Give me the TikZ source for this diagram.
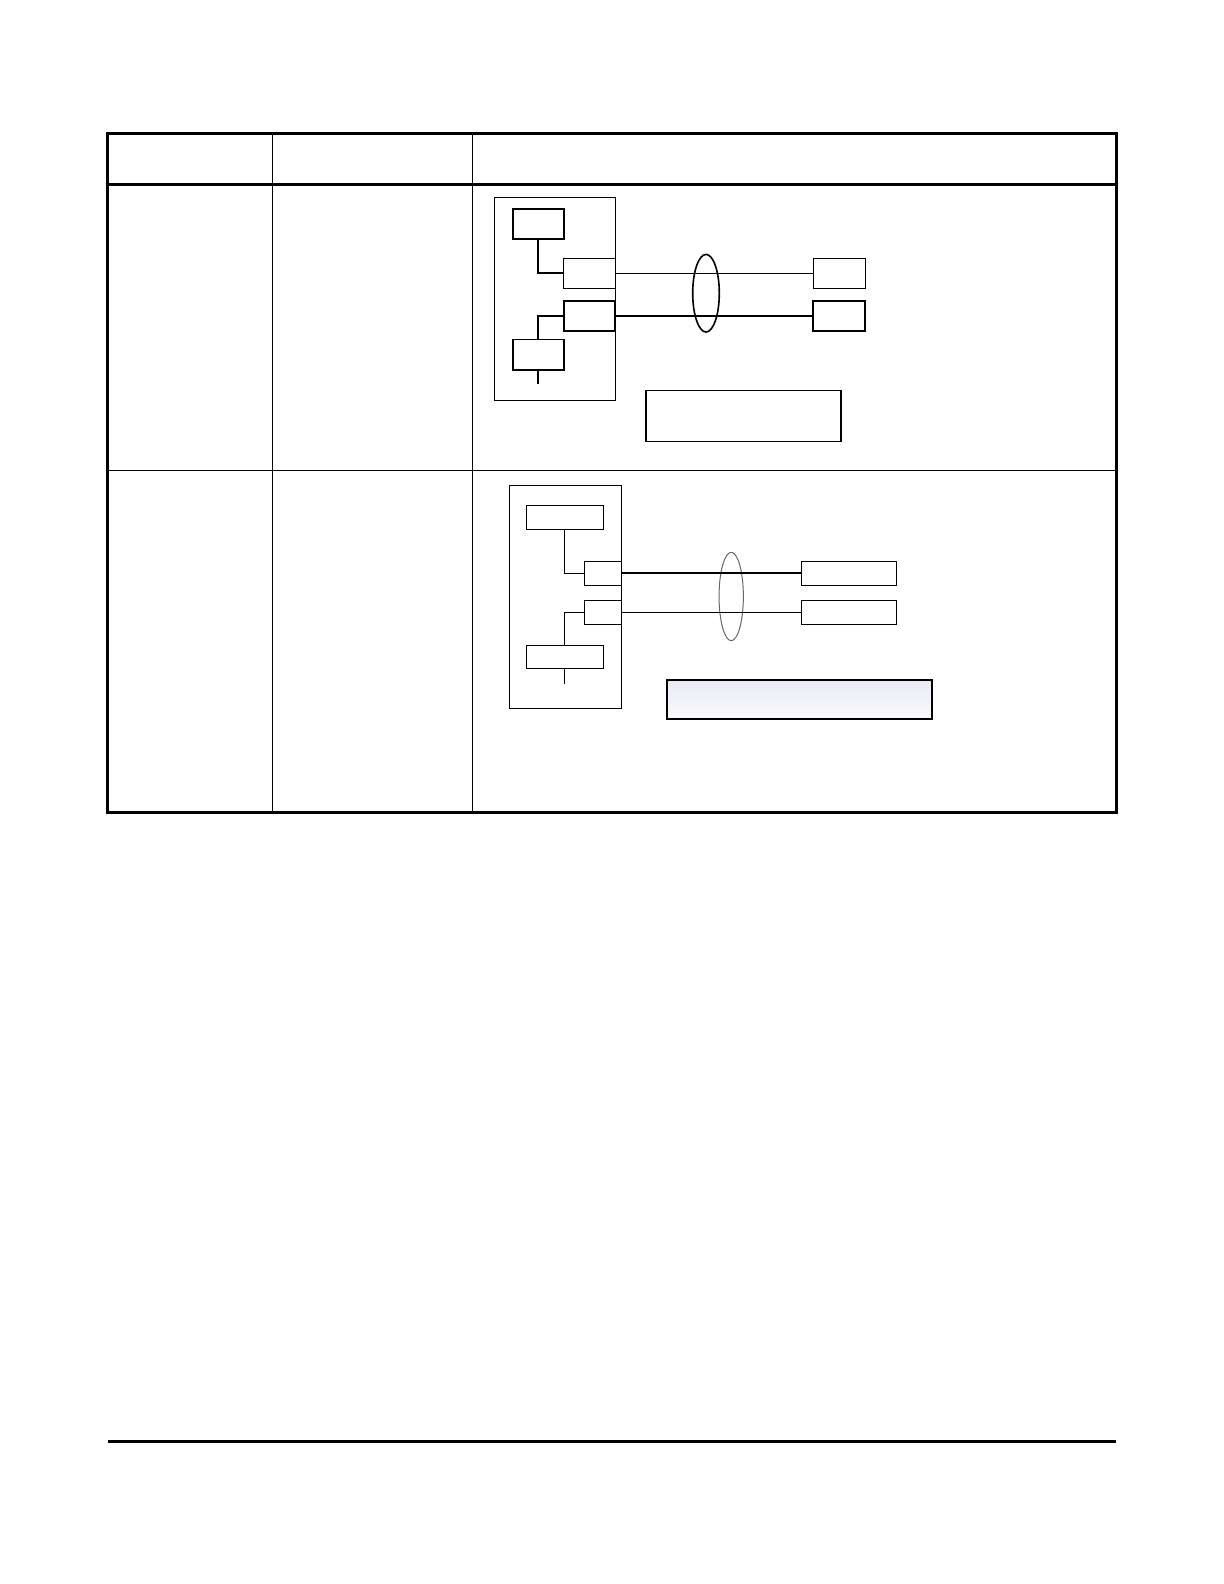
\documentclass[tikz,border=0pt]{standalone}
\usetikzlibrary{shapes.geometric}
\definecolor{notetop}{RGB}{232,235,246}
\definecolor{notebot}{RGB}{250,251,254}

\begin{document}
\begin{tikzpicture}[
 x=0.5pt, y=-0.5pt,
 frame/.style={draw, line width=1.5pt},
 rule/.style={draw, line width=0.65pt},
 blk/.style={rectangle, draw, inner sep=0pt, line width=0.5pt},
 blkthick/.style={blk, line width=1pt},
 wire/.style={line width=0.55pt},
 wirethick/.style={line width=1.05pt},
 bundle/.style={ellipse, draw, inner sep=0pt}
]
\useasboundingbox (0,0) rectangle (1224,1584);

% table grid
\draw[rule] (272.7,133.3) -- (272.7,812.7);
\draw[rule] (472.3,133.3) -- (472.3,812.7);
\draw[rule] (107.7,470.2) -- (1116.3,470.2);
\draw[frame] (107.7,184) -- (1116.3,184);
\draw[frame] (107.7,133.3) rectangle (1116.3,812.7);

% first row
\node[blk, minimum width=60.3pt, minimum height=101.5pt] (outer1) at (555,298.8) {};
\node[blkthick, minimum width=25.5pt, minimum height=15pt] (top1) at (538.2,224) {};
\node[blk, minimum width=25.8pt, minimum height=15pt] (porta1) at (589.5,273.3) {};
\node[blkthick, minimum width=25.8pt, minimum height=14.85pt] (portb1) at (589.5,315.8) {};
\node[blk, line width=0.8pt, minimum width=25.5pt, minimum height=15.3pt] (bot1) at (538.2,354.7) {};
\node[blk, minimum width=26pt, minimum height=15pt] (rta1) at (839.3,273.3) {};
\node[blkthick, minimum width=26pt, minimum height=14.85pt] (rtb1) at (839.3,315.8) {};
\node[bundle, line width=0.8pt, minimum width=13.3pt, minimum height=38.8pt] (ring1) at (706,293.2) {};
\node[blk, line width=0.75pt, minimum width=97.5pt, minimum height=25.5pt] (note1) at (743.5,415.8) {};
\coordinate (tail1) at (538.2,384.3);

\draw[wirethick] (top1.south) |- (porta1.west);
\draw[wirethick] (portb1.west) -| (bot1.north);
\draw[wirethick] (bot1.south) -- (tail1);
\draw[wire] (porta1.east) -- (rta1.west);
\draw[wirethick] (portb1.east) -- (rtb1.west);

% second row
\node[blk, line width=0.65pt, minimum width=56pt, minimum height=111.5pt] (outer2) at (565.3,596.8) {};
\node[blk, minimum width=38.5pt, minimum height=12pt] (top2) at (564.8,517.3) {};
\node[blk, minimum width=18.5pt, minimum height=12.15pt] (porta2) at (602.8,573.2) {};
\node[blk, minimum width=18.5pt, minimum height=12pt] (portb2) at (602.8,612.3) {};
\node[blk, minimum width=38.5pt, minimum height=11.5pt] (bot2) at (564.8,656.8) {};
\node[blk, minimum width=47.65pt, minimum height=12.15pt] (rta2) at (848.7,573.2) {};
\node[blk, minimum width=47.65pt, minimum height=12pt] (rtb2) at (848.7,612.3) {};
\node[bundle, draw=black!60, line width=0.5pt, minimum width=12.15pt, minimum height=44.2pt] (ring2) at (731.2,596.5) {};
\node[blk, line width=1pt, top color=notetop, bottom color=notebot, minimum width=132.5pt, minimum height=19.5pt] (note2) at (799.8,699.8) {};
\coordinate (tail2) at (564.8,683.7);

\draw[wire] (top2.south) |- (porta2.west);
\draw[wire] (portb2.west) -| (bot2.north);
\draw[wire] (bot2.south) -- (tail2);
\draw[wirethick] (porta2.east) -- (rta2.west);
\draw[wire] (portb2.east) -- (rtb2.west);

% footer rule
\draw[frame] (107.7,1441.5) -- (1116.3,1441.5);
\end{tikzpicture}
\end{document}
